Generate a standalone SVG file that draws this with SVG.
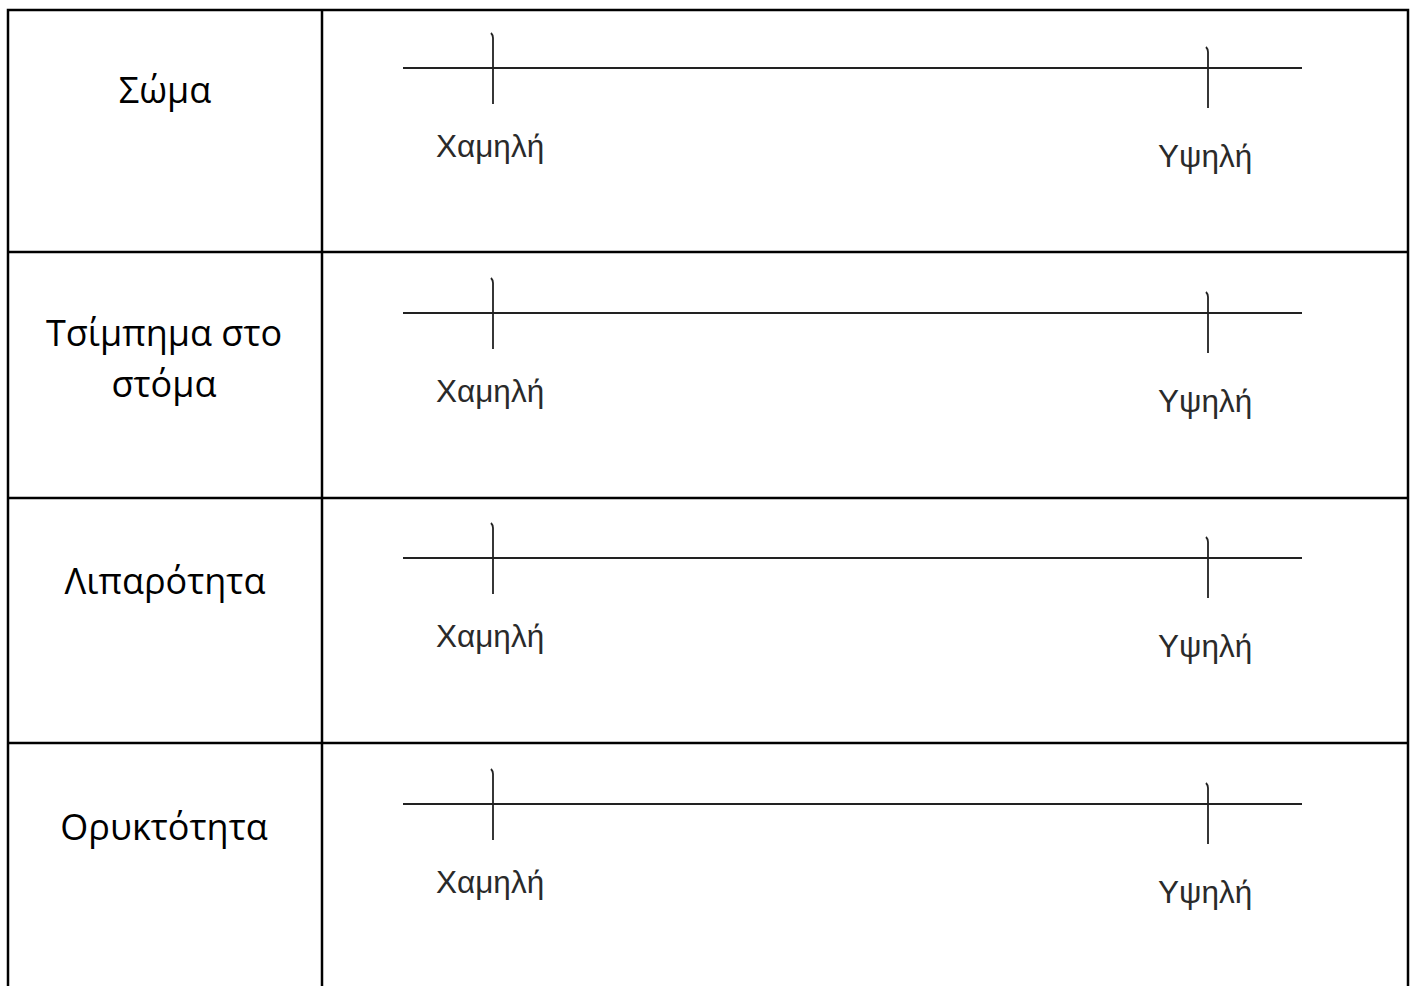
<svg xmlns="http://www.w3.org/2000/svg" width="1415" height="986" viewBox="0 0 1415 986">
<style>
.grid{stroke:#000;stroke-width:2.5;fill:none}
.scale{stroke:#222;stroke-width:1.8;fill:none}
.head{font-family:"Open Sans","Noto Sans",sans-serif;font-size:36px;fill:#000;text-anchor:middle}
.lab{font-family:"Liberation Sans",Arial,sans-serif;font-size:31.5px;fill:#2a2a2a}
</style>
<defs>
<g id="scaleRow">
<path class="scale" d="M403,68 H1302"/>
<path class="scale" d="M491,33 Q493,35 493,38 V104"/>
<path class="scale" d="M1206,47 Q1208,49 1208,52 V108"/>
<text class="lab" x="436" y="157">Χαμηλή</text>
<text class="lab" x="1158" y="167">Υψηλή</text>
</g>
</defs>
<g id="table-grid">
<path class="grid" d="M8,986 V10 H1408 V986"/>
<path class="grid" d="M322,10 V986"/>
<path class="grid" d="M8,252 H1408 M8,498 H1408 M8,743 H1408"/>
</g>
<g id="connectors"></g>
<g id="row-soma">
<text class="head" x="165" y="103">Σώμα</text>
<use href="#scaleRow"/>
</g>
<g id="row-tsimpima">
<text class="head" x="164" y="346">Τσίμπημα στο</text>
<text class="head" x="164" y="397">στόμα</text>
<use href="#scaleRow" transform="translate(0,245)"/>
</g>
<g id="row-liparotita">
<text class="head" x="165" y="594">Λιπαρότητα</text>
<use href="#scaleRow" transform="translate(0,490)"/>
</g>
<g id="row-oryktotita">
<text class="head" x="164" y="840">Ορυκτότητα</text>
<use href="#scaleRow" transform="translate(0,736)"/>
</g>
</svg>
